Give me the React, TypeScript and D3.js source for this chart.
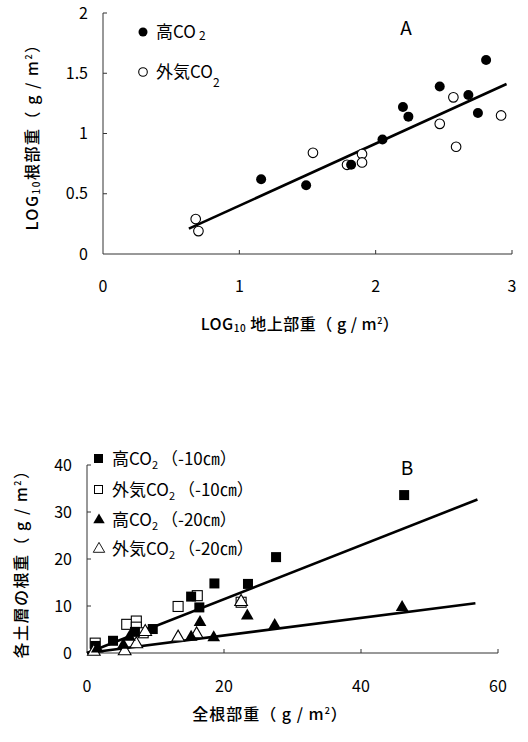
import React from "react";
import * as d3 from "d3";

// panel A: log10 shoot weight vs log10 root weight
const highA = [
  [1.16, 0.62], [1.49, 0.57], [1.82, 0.74], [2.05, 0.95], [2.2, 1.22],
  [2.24, 1.14], [2.47, 1.39], [2.68, 1.32], [2.75, 1.17], [2.81, 1.61],
];
const ambientA = [
  [0.68, 0.29], [0.7, 0.19], [1.54, 0.84], [1.79, 0.74], [1.9, 0.83],
  [1.9, 0.76], [2.47, 1.08], [2.57, 1.3], [2.59, 0.89], [2.92, 1.15],
];
const fitA = { slope: 0.515, intercept: -0.114, from: 0.63, to: 2.96 };
const xTicksA = [0, 1, 2, 3];
const yTicksA = [0, 0.5, 1, 1.5, 2];

// panel B: total root weight vs root weight per layer
const high10 = [
  [1.2, 1.5], [3.8, 2.6], [7, 4.5], [9.6, 5.1], [15.2, 12], [16.4, 9.7],
  [18.6, 14.8], [23.5, 14.7], [27.6, 20.4], [46.3, 33.6],
];
const ambient10 = [
  [1.2, 2.1], [5.8, 6.1], [7.2, 6.8], [7.2, 5.5], [8.2, 4.3],
  [13.3, 9.9], [16.1, 12.2], [22.5, 10.8],
];
const high20 = [
  [1.5, 0.9], [5.3, 1.7], [6.2, 3.4], [15.2, 3.4], [16.5, 6.5],
  [18.5, 3.3], [23.4, 7.9], [27.4, 5.9], [46, 9.7],
];
const ambient20 = [
  [1, 0.3], [5.5, 0.4], [7.2, 1.9], [8.5, 4.5], [13.3, 3.3],
  [16, 4], [22.5, 10.9],
];
const fitB = [
  { slope: 0.573, from: 0, to: 57 },
  { slope: 0.187, from: 0, to: 56.7 },
];
const xTicksB = [0, 20, 40, 60];
const yTicksB = [0, 10, 20, 30, 40];
const legendB = [
  { label: "高CO", depth: "（-10㎝）" },
  { label: "外気CO", depth: "（-10㎝）" },
  { label: "高CO", depth: "（-20㎝）" },
  { label: "外気CO", depth: "（-20㎝）" },
];

const font = "'Noto Sans CJK JP', 'Noto Sans', sans-serif";

const xA = d3.scaleLinear().domain([0, 3]).range([103, 512]);
const yA = d3.scaleLinear().domain([0, 2]).range([254, 13]);
const xB = d3.scaleLinear().domain([0, 60]).range([87, 498]);
const yB = d3.scaleLinear().domain([0, 40]).range([653, 465]);

const tri = d3.symbol().type(d3.symbolTriangle).size(70)() ?? "";

const Unit = () => (
  <>
    （ g / m<tspan dy={-6} fontSize={9}>2</tspan>
    <tspan dy={6}>）</tspan>
  </>
);

export default function App() {
  const line = d3.line();
  const legendY = [459, 490, 520, 549];
  return (
    <svg
      width={528}
      height={742}
      style={{ position: "absolute", left: 0, top: 0, background: "#fff" }}
      fontFamily={font}
    >
      {/* ---------- panel A ---------- */}
      <g stroke="#333" strokeWidth={1} fill="none">
        <path d={`M${xA(0)},${yA(2)}V${yA(0)}H${xA(3)}V${yA(0) - 4}`} />
        {yTicksA.slice(1).map((t) => (
          <path key={t} d={`M${xA(0)},${yA(t)}h4`} />
        ))}
        {xTicksA.slice(1, -1).map((t) => (
          <path key={t} d={`M${xA(t)},${yA(0)}v-4`} />
        ))}
      </g>
      {yTicksA.map((t) => (
        <text key={t} x={88} y={yA(t)} dy="0.35em" textAnchor="end" fontSize={16}>
          {t}
        </text>
      ))}
      {xTicksA.map((t) => (
        <text key={t} x={xA(t)} y={292} textAnchor="middle" fontSize={16}>
          {t}
        </text>
      ))}
      <text x={300} y={330} textAnchor="middle" fontSize={16} fontWeight={500} letterSpacing={0.5}>
        LOG<tspan fontSize={10} dy={2}>10</tspan>
        <tspan dy={-2}> 地上部重</tspan>
        <Unit />
      </text>
      <text
        transform="translate(38,133) rotate(-90)"
        textAnchor="middle"
        fontSize={16}
        fontWeight={500}
        letterSpacing={1.5}
      >
        LOG<tspan fontSize={10} dy={2}>10</tspan>
        <tspan dy={-2}>根部重</tspan>
        <Unit />
      </text>
      <path
        d={line([
          [xA(fitA.from), yA(fitA.slope * fitA.from + fitA.intercept)],
          [xA(fitA.to), yA(fitA.slope * fitA.to + fitA.intercept)],
        ]) ?? ""}
        stroke="#000"
        strokeWidth={2.6}
        fill="none"
      />
      {ambientA.map(([x, y], i) => (
        <circle key={"a" + i} cx={xA(x)} cy={yA(y)} r={4.8} fill="#fff" stroke="#000" strokeWidth={1.1} />
      ))}
      {highA.map(([x, y], i) => (
        <circle key={"h" + i} cx={xA(x)} cy={yA(y)} r={5} fill="#000" />
      ))}
      <circle cx={143} cy={32} r={4.5} fill="#000" />
      <text x={156} y={38} fontSize={17}>
        高CO<tspan fontSize={12} dx={3} dy={2}>2</tspan>
      </text>
      <circle cx={143} cy={72} r={4.3} fill="#fff" stroke="#000" strokeWidth={1.1} />
      <text x={156} y={78} fontSize={17}>
        外気CO<tspan fontSize={12} dy={9}>2</tspan>
      </text>
      <text x={406} y={35} textAnchor="middle" fontSize={19}>A</text>

      {/* ---------- panel B ---------- */}
      <g stroke="#333" strokeWidth={1} fill="none">
        <path d={`M${xB(0)},${yB(40)}V${yB(0)}H${xB(60)}V${yB(0) - 4}`} />
        {yTicksB.slice(1).map((t) => (
          <path key={t} d={`M${xB(0)},${yB(t)}h4`} />
        ))}
        {xTicksB.slice(1, -1).map((t) => (
          <path key={t} d={`M${xB(t)},${yB(0)}v-4`} />
        ))}
      </g>
      {yTicksB.map((t) => (
        <text key={t} x={72} y={yB(t)} dy="0.35em" textAnchor="end" fontSize={16}>
          {t}
        </text>
      ))}
      {xTicksB.map((t) => (
        <text key={t} x={xB(t)} y={692} textAnchor="middle" fontSize={16}>
          {t}
        </text>
      ))}
      <text x={270} y={720} textAnchor="middle" fontSize={16} fontWeight={500} letterSpacing={1}>
        全根部重<Unit />
      </text>
      <text
        transform="translate(27,560) rotate(-90)"
        textAnchor="middle"
        fontSize={16}
        fontWeight={500}
        letterSpacing={1.5}
      >
        各土層の根重<Unit />
      </text>
      {fitB.map((f, i) => (
        <path
          key={i}
          d={line([
            [xB(f.from), yB(f.slope * f.from)],
            [xB(f.to), yB(f.slope * f.to)],
          ]) ?? ""}
          stroke="#000"
          strokeWidth={2.6}
          fill="none"
        />
      ))}
      {ambient10.map(([x, y], i) => (
        <rect key={"a10" + i} x={xB(x) - 5} y={yB(y) - 5} width={10} height={10} fill="#fff" stroke="#000" strokeWidth={1.1} />
      ))}
      {high10.map(([x, y], i) => (
        <rect key={"h10" + i} x={xB(x) - 5} y={yB(y) - 5} width={10} height={10} fill="#000" />
      ))}
      {ambient20.map(([x, y], i) => (
        <path key={"a20" + i} d={tri} transform={`translate(${xB(x)},${yB(y)})`} fill="#fff" stroke="#000" strokeWidth={1.1} />
      ))}
      {high20.map(([x, y], i) => (
        <path key={"h20" + i} d={tri} transform={`translate(${xB(x)},${yB(y)})`} fill="#000" />
      ))}
      <g fontSize={17}>
        <rect x={94} y={legendY[0] - 5} width={9} height={9} fill="#000" />
        <rect x={94.5} y={legendY[1] - 4.5} width={8} height={8} fill="#fff" stroke="#000" />
        <path d={tri} transform={`translate(99,${legendY[2]}) scale(0.9)`} fill="#000" />
        <path d={tri} transform={`translate(99,${legendY[3]}) scale(0.9)`} fill="#fff" stroke="#000" />
        {legendB.map((d, i) => (
          <text key={i} x={112} y={legendY[i] + 6}>
            {d.label}
            <tspan fontSize={11} dy={4}>2</tspan>
            <tspan dy={-4} dx={3}>{d.depth}</tspan>
          </text>
        ))}
      </g>
      <text x={407} y={475} textAnchor="middle" fontSize={19}>B</text>
    </svg>
  );
}
